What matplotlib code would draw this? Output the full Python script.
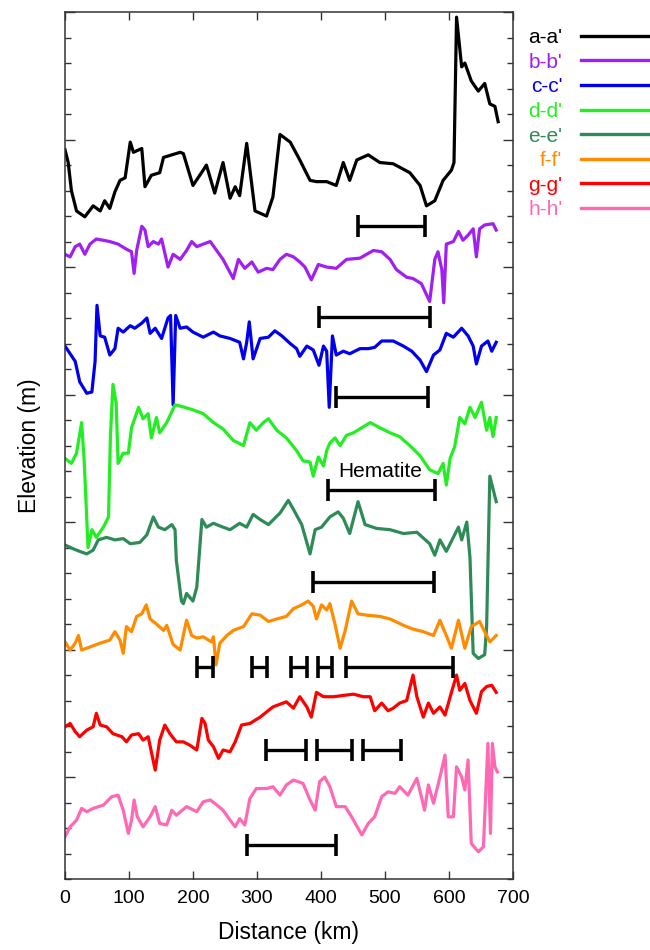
import matplotlib as mpl
mpl.use('Agg')

import matplotlib.pyplot as plt

plt.rcParams['font.family'] = ['Liberation Sans', 'DejaVu Sans']

# %% profile data (distance in km, elevation in tick units, offset per profile)
a_km = [0, 5, 10, 18, 31, 44, 55, 62, 70, 78, 86, 94, 102, 107, 120, 125, 135, 148,
        154, 180, 185, 200, 216, 221, 234, 247, 258, 266, 273, 284, 297, 315, 325,
        336, 352, 367, 383, 393, 409, 424, 435, 445, 456, 474, 492, 513, 539, 555,
        565, 578, 591, 604, 608, 612, 620, 625, 635, 646, 656, 664, 672, 677]
a_elev = [28.6, 28.1, 27.0, 26.2, 25.97, 26.4, 26.2, 26.6, 26.3, 26.95, 27.4, 27.5,
          28.9, 28.5, 28.65, 27.15, 27.6, 27.7, 28.3, 28.5, 28.45, 27.2, 27.8, 28.0,
          26.9, 28.1, 26.7, 27.15, 26.8, 28.85, 26.2, 26.0, 26.75, 29.2, 28.9, 28.2,
          27.4, 27.35, 27.35, 27.2, 28.1, 27.4, 28.2, 28.4, 28.1, 28.05, 27.7, 27.2,
          26.4, 26.6, 27.4, 27.8, 28.1, 33.8, 31.85, 32.0, 31.3, 30.9, 31.2, 30.4,
          30.3, 29.7]

b_km = [0, 8, 16, 23, 31, 39, 49, 60, 70, 83, 96, 104, 108, 112, 120, 125, 130, 138,
        146, 151, 161, 169, 180, 190, 198, 206, 216, 227, 237, 247, 263, 271, 281,
        292, 302, 315, 325, 336, 346, 357, 367, 375, 385, 396, 409, 424, 440, 461,
        482, 495, 508, 518, 534, 544, 557, 570, 578, 583, 589, 592, 596, 607, 615,
        622, 630, 638, 643, 648, 656, 669, 674]
b_elev = [24.5, 24.4, 24.8, 24.9, 24.5, 24.9, 25.1, 25.05, 25.0, 24.9, 24.7, 24.6,
          23.75, 24.65, 25.6, 25.45, 24.8, 25.0, 24.9, 25.1, 24.0, 24.5, 24.3, 24.65,
          25.0, 24.8, 24.9, 25.0, 24.65, 24.3, 23.55, 24.3, 23.95, 24.2, 23.8, 23.95,
          23.9, 24.3, 24.5, 24.4, 24.2, 24.0, 23.5, 24.1, 24.0, 23.95, 24.3, 24.35,
          24.65, 24.6, 24.3, 23.9, 23.6, 23.55, 23.35, 22.65, 24.3, 24.6, 23.9, 22.6,
          24.9, 25.0, 25.4, 25.05, 25.25, 25.5, 24.4, 25.5, 25.65, 25.7, 25.45]

c_km = [0, 8, 16, 23, 34, 42, 47, 50, 55, 62, 70, 78, 83, 91, 102, 109, 120, 128,
        133, 141, 151, 161, 165, 169, 173, 180, 190, 200, 216, 232, 242, 258, 273,
        279, 284, 288, 294, 305, 318, 328, 339, 352, 362, 367, 378, 388, 397, 404,
        409, 413, 418, 424, 435, 445, 461, 474, 484, 495, 513, 529, 542, 555, 565,
        576, 586, 596, 607, 620, 630, 638, 643, 651, 661, 667, 674]
c_elev = [20.9, 20.6, 20.3, 19.5, 19.05, 19.1, 20.3, 22.5, 21.3, 21.25, 20.55, 20.8,
          21.6, 21.45, 21.7, 21.6, 21.8, 22.0, 21.4, 21.6, 21.2, 22.0, 22.1, 18.6,
          22.1, 21.6, 21.65, 21.45, 21.25, 21.45, 21.3, 21.2, 21.05, 20.4, 21.05,
          21.85, 20.4, 21.2, 21.25, 21.5, 21.3, 21.0, 20.8, 20.5, 20.9, 20.75, 20.15,
          20.9, 20.7, 18.5, 21.3, 20.55, 20.7, 20.6, 20.8, 20.8, 20.85, 21.1, 21.1,
          20.9, 20.7, 20.35, 19.9, 20.55, 20.75, 21.4, 21.25, 21.6, 21.3, 20.9, 20.2,
          20.9, 21.1, 20.7, 21.05]

d_km = [0, 10, 18, 26, 30, 36, 42, 49, 60, 68, 71, 75, 80, 83, 91, 99, 104, 115,
        122, 130, 135, 143, 148, 159, 172, 187, 200, 216, 232, 247, 263, 279, 289,
        299, 310, 318, 331, 346, 362, 372, 383, 388, 396, 404, 409, 414, 422, 430,
        440, 451, 464, 477, 492, 508, 523, 539, 555, 570, 583, 591, 596, 602, 609,
        617, 625, 633, 641, 651, 659, 664, 669, 674]
d_elev = [16.5, 16.3, 16.7, 17.9, 16.4, 13.0, 13.7, 13.4, 13.8, 14.2, 17.35, 19.4,
          18.65, 16.3, 16.7, 16.7, 17.7, 18.5, 18.05, 18.25, 17.3, 18.1, 17.5, 17.9,
          18.6, 18.5, 18.4, 18.25, 17.9, 17.65, 17.2, 17.0, 17.9, 17.6, 17.9, 18.05,
          17.6, 17.3, 16.8, 16.4, 16.35, 15.8, 16.55, 16.2, 16.8, 17.1, 17.3, 17.0,
          17.4, 17.5, 17.7, 17.9, 17.7, 17.5, 17.35, 17.0, 16.6, 16.05, 15.9, 16.3,
          15.45, 16.5, 16.95, 18.1, 17.85, 18.5, 18.1, 18.7, 17.6, 18.1, 17.35, 18.1]

e_km = [0, 13, 23, 34, 44, 52, 65, 78, 91, 102, 117, 128, 138, 146, 156, 167, 172,
        174, 182, 185, 190, 200, 206, 214, 221, 232, 247, 258, 273, 284, 294, 305,
        318, 336, 349, 357, 370, 383, 391, 401, 414, 427, 435, 445, 458, 469, 487,
        508, 529, 550, 570, 578, 586, 596, 607, 615, 620, 628, 633, 638, 646, 656,
        659, 664, 674]
e_elev = [13.1, 12.95, 12.85, 12.75, 12.9, 13.3, 13.4, 13.3, 13.35, 13.15, 13.2, 13.5,
          14.2, 13.8, 13.7, 13.9, 13.7, 12.5, 10.9, 10.8, 11.2, 10.9, 11.45, 14.1,
          13.8, 13.95, 13.8, 13.7, 13.95, 13.8, 14.3, 14.1, 13.9, 14.35, 14.85, 14.5,
          13.9, 12.75, 13.7, 13.8, 14.2, 14.4, 14.15, 13.55, 14.8, 13.9, 13.75, 13.7,
          13.55, 13.6, 13.15, 12.7, 13.3, 12.85, 13.4, 13.8, 13.3, 14.0, 12.6, 8.85,
          8.65, 8.8, 9.9, 15.8, 14.8]

f_km = [0, 8, 16, 21, 26, 39, 55, 70, 78, 86, 91, 96, 104, 112, 120, 127, 133, 143,
        154, 159, 169, 180, 190, 198, 206, 216, 229, 232, 236, 242, 253, 263, 279,
        292, 305, 318, 331, 346, 357, 370, 380, 388, 393, 401, 409, 414, 422, 430,
        438, 448, 458, 471, 492, 508, 529, 544, 560, 576, 586, 596, 604, 615, 625,
        635, 648, 656, 664, 674]
f_elev = [9.3, 8.98, 9.25, 9.55, 8.98, 9.1, 9.25, 9.37, 9.7, 9.37, 8.85, 9.9, 9.7,
          10.3, 10.4, 10.75, 10.2, 10.0, 9.75, 9.95, 9.2, 8.98, 10.15, 9.55, 9.45,
          9.5, 9.3, 9.5, 8.4, 9.25, 9.55, 9.75, 9.9, 10.4, 10.35, 10.1, 10.2, 10.3,
          10.6, 10.75, 10.9, 10.7, 10.2, 10.75, 10.55, 10.8, 10.0, 9.05, 9.75, 10.9,
          10.4, 10.35, 10.3, 10.2, 9.95, 9.8, 9.7, 9.55, 10.15, 9.55, 9.05, 10.15,
          9.05, 9.9, 10.1, 9.7, 9.3, 9.55]

g_km = [0, 8, 16, 23, 34, 44, 49, 55, 65, 75, 89, 96, 104, 115, 122, 130, 141, 148,
        156, 164, 174, 185, 195, 206, 214, 219, 224, 232, 240, 247, 258, 266, 276,
        289, 305, 325, 346, 357, 367, 378, 385, 393, 404, 420, 435, 451, 466, 477,
        484, 495, 505, 513, 523, 534, 544, 550, 560, 568, 576, 586, 594, 604, 612,
        617, 625, 633, 643, 651, 659, 667, 674]
g_elev = [5.97, 6.1, 5.78, 5.58, 5.84, 5.97, 6.5, 6.04, 5.97, 5.7, 5.58, 5.38, 5.65,
          5.7, 5.45, 5.58, 4.27, 5.45, 6.04, 5.7, 5.38, 5.38, 5.25, 5.06, 6.3, 6.1,
          5.45, 5.19, 4.73, 5.06, 4.99, 5.38, 6.04, 6.1, 6.35, 6.75, 6.95, 6.7, 7.15,
          6.75, 6.35, 7.32, 7.15, 7.15, 7.2, 7.25, 7.15, 7.15, 6.6, 6.9, 6.6, 6.7,
          6.9, 7.0, 8.0, 7.15, 6.35, 6.9, 6.5, 6.75, 6.43, 7.32, 8.0, 7.4, 7.67, 7.0,
          6.5, 7.35, 7.55, 7.6, 7.32]

h_km = [0, 8, 18, 26, 34, 44, 60, 73, 83, 91, 99, 104, 108, 113, 122, 133, 141, 148,
        159, 167, 174, 190, 206, 216, 227, 234, 247, 258, 266, 273, 281, 289, 299,
        315, 325, 336, 346, 357, 372, 383, 391, 398, 406, 414, 424, 438, 448, 464,
        474, 484, 495, 505, 516, 523, 536, 550, 557, 562, 568, 576, 586, 594, 599,
        607, 612, 620, 625, 630, 635, 646, 654, 661, 665, 668, 672, 676]
h_elev = [1.66, 2.05, 2.31, 2.77, 2.64, 2.77, 2.9, 3.23, 3.29, 2.7, 1.79, 2.31, 3.1,
          2.44, 2.05, 2.44, 2.84, 2.18, 2.12, 2.7, 2.5, 2.84, 2.64, 3.03, 3.1, 2.97,
          2.7, 2.31, 2.05, 2.37, 2.12, 3.16, 3.55, 3.55, 3.62, 3.29, 3.69, 3.88, 3.75,
          3.1, 2.7, 3.82, 4.0, 3.62, 2.84, 2.84, 2.44, 1.73, 2.18, 2.44, 3.23, 3.42,
          3.36, 3.62, 3.29, 3.95, 3.23, 2.7, 3.69, 2.97, 4.0, 4.86, 2.44, 2.44, 4.4,
          4.0, 3.49, 4.67, 1.4, 1.07, 1.26, 5.32, 1.79, 5.32, 4.4, 4.2]

labels = ["a-a'", "b-b'", "c-c'", "d-d'", "e-e'", "f-f'", "g-g'", "h-h'"]
colors = ['#000000', '#a020f0', '#0000ee', '#22ee22', '#2e8b57', '#ff8c00',
          '#ff0000', '#ff69b4']

# scale bars: (start km, end km, level)
bars_start = [458, 397, 423, 411, 388, 207, 293, 353, 395, 439, 314, 394, 466, 284]
bars_end = [563, 570, 567, 578, 576, 231, 315, 378, 417, 606, 377, 448, 525, 423]
bars_level = [25.6, 22.05, 18.9, 15.25, 11.65, 8.3, 8.3, 8.3, 8.3, 8.3, 5.06, 5.06,
              5.06, 1.33]

# %%
fig = plt.figure(figsize=[6.5, 9.5], dpi=100)
ax = fig.add_axes([0.1, 0.0747, 0.689, 0.9126])

profiles = [(a_km, a_elev), (b_km, b_elev), (c_km, c_elev), (d_km, d_elev),
            (e_km, e_elev), (f_km, f_elev), (g_km, g_elev), (h_km, h_elev)]

for n in range(len(profiles)):
    km, elev = profiles[n]
    ax.plot(km, elev, color=colors[n], linewidth=2.3, label=labels[n],
            solid_joinstyle='round')

for n in range(len(bars_start)):
    mid = 0.5 * (bars_start[n] + bars_end[n])
    half = 0.5 * (bars_end[n] - bars_start[n])
    ax.errorbar(mid, bars_level[n], xerr=half, fmt='none', ecolor='black',
                elinewidth=2.4, capsize=8, capthick=2.6)

ax.text(492, 15.6, 'Hematite', fontsize=15, ha='center', va='bottom')

ax.set_xlim(0, 700)
ax.set_ylim(0, 34)
ax.set_xticks(range(0, 701, 100))
ax.set_yticks(range(4, 35, 5))
ax.set_yticks(range(0, 35), minor=True)
ax.set_yticklabels([])
ax.tick_params(axis='both', which='both', direction='in', top=True, right=True,
               labelsize=14, width=1.0, color='#333333')
ax.tick_params(axis='x', which='major', length=6, pad=8)
ax.tick_params(axis='y', which='major', length=7)
ax.tick_params(axis='y', which='minor', length=4.5)
for s in ax.spines.values():
    s.set_linewidth(1.1)
    s.set_color('#333333')

ax.set_xlabel('Distance (km)', fontsize=16.5, labelpad=10)
ax.set_ylabel('Elevation (m)', fontsize=16.5, labelpad=14)

leg = ax.legend(loc='upper left', bbox_to_anchor=(528 / 650, 1 - 28 / 950),
                bbox_transform=fig.transFigure, frameon=False, markerfirst=False,
                fontsize=15, handlelength=4.5, handletextpad=0.9,
                labelspacing=0.27, borderpad=0, borderaxespad=0,
                labelcolor='linecolor')
for line in leg.get_lines():
    line.set_linewidth(2.4)

plt.savefig('out.png', dpi=100)
